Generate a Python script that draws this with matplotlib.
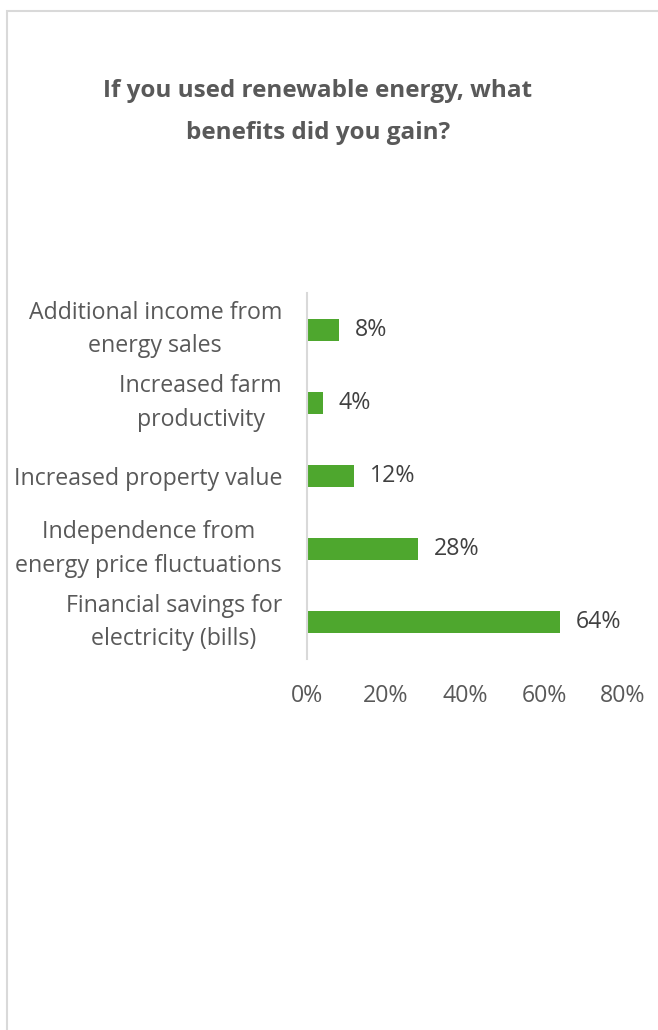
import numpy as np
import matplotlib
matplotlib.use('Agg')
import matplotlib.pyplot as plt
from matplotlib.patches import Rectangle

# survey answers, bottom to top as drawn on the y axis
categories = ['Financial savings for\nelectricity (bills)',
              'Independence from\nenergy price fluctuations',
              'Increased property value',
              'Increased farm\nproductivity',
              'Additional income from\nenergy sales']
values = [64, 28, 12, 4, 8]
xticks = [0, 20, 40, 60, 80]
xticklabels = ['0%', '20%', '40%', '60%', '80%']
title = 'If you used renewable energy, what\nbenefits did you gain?'

plt.rcParams['font.family'] = ['Open Sans', 'DejaVu Sans']

fig = plt.figure(figsize=(6.58, 10.30), dpi=100)
fig.patch.set_facecolor('white')

# light frame round the chart area (runs off right and bottom)
fig.patches.append(Rectangle((7/658, -0.05), 1.2, 1 - 11/1030 + 0.05,
                             transform=fig.transFigure, fill=False,
                             edgecolor='#d9d9d9', linewidth=1.5))

fig.text(318/658, 1 - 112/1030, title, ha='center', va='center',
         fontsize=17.5, fontweight='bold', color='#595959', linespacing=2.05)

ax = fig.add_axes([307/658, 1 - 659/1030, 316/658, 366/1030])
y = np.arange(len(values))
ax.barh(y, values, height=0.3, color='#4ea72e')
for yi, v in zip(y, values):
    ax.text(v + 4, yi, '%d%%' % v, va='center', ha='left',
            fontsize=16.7, color='#404040')

ax.set_xlim(0, 80)
ax.set_ylim(-0.5, 4.5)
ax.set_xticks(xticks)
ax.set_xticklabels(xticklabels)
ax.set_yticks(y)
ax.set_yticklabels(categories)
for t in ax.get_yticklabels():
    t.set_multialignment('center')
    t.set_linespacing(1.53)
    if '\n' in t.get_text():
        t.set_verticalalignment('center')
ax.tick_params(axis='both', length=0, labelsize=16.7, colors='#595959')
ax.tick_params(axis='y', pad=18)
ax.tick_params(axis='x', pad=18)
for s in ['top', 'right', 'bottom']:
    ax.spines[s].set_visible(False)
ax.spines['left'].set_color('#d9d9d9')
ax.spines['left'].set_linewidth(1.5)

fig.savefig('out.png', dpi=100)
